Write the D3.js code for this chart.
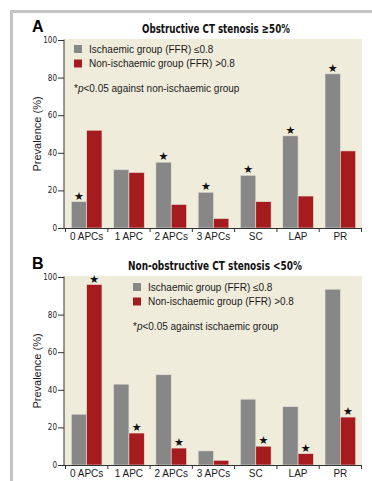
<!DOCTYPE html>
<html>
<head>
<meta charset="utf-8">
<script src="https://cdn.jsdelivr.net/npm/d3@7"></script>
<style>
body{margin:0;background:#fff;}
svg{display:block;}
.tickNum{font-family:"Liberation Sans Narrow","DejaVu Sans Condensed",sans-serif;font-size:8px;fill:#222;}
.lbl{font-family:"Liberation Sans",Arial,sans-serif;font-size:10px;fill:#1a1a1a;}
.ttl{font-family:"Liberation Sans Narrow","DejaVu Sans Condensed",sans-serif;font-size:13px;font-weight:bold;fill:#111;}
</style>
</head>
<body>
<svg id="chart" width="372" height="481"></svg>
<script>

var categories = ["0 APCs", "1 APC", "2 APCs", "3 APCs", "SC", "LAP", "PR"];
var yTicks = [0, 20, 40, 60, 80, 100];

// panel A - obstructive
var obsIschaemic = [14, 31, 35, 19, 28, 49, 82];
var obsNonIschaemic = [52, 29.5, 12.5, 5, 14, 17, 41];
var obsStarIsch = [1, 0, 1, 1, 1, 1, 1];
var obsStarNon = [0, 0, 0, 0, 0, 0, 0];

// panel B - non-obstructive
var nonIschaemic = [27, 43, 48, 7.5, 35, 31, 93.5];
var nonNonIschaemic = [96, 17, 9, 2.5, 10, 6, 25.5];
var nonStarIsch = [0, 0, 0, 0, 0, 0, 0];
var nonStarNon = [1, 1, 1, 0, 1, 1, 1];

var grey = "#878787", red = "#a61b1d", beige = "#f0ecdb";

var svg = d3.select("#chart");

// outer frame
svg.append("rect")
  .attr("x", 11.5).attr("y", 11.5)
  .attr("width", 400).attr("height", 500)
  .attr("fill", "none").attr("stroke", "#c4c4c4").attr("stroke-width", 3);

function panel(opt){
  var top = opt.top, bottom = opt.top + 188;
  var left = 64, right = 362;

  var x = d3.scaleBand().domain(categories).range([65.5, 361.5]).paddingInner(0);
  var x1 = d3.scaleBand().domain(["isch", "non"]).range([0, x.bandwidth()]).paddingOuter(0.38).paddingInner(0);
  var y = d3.scaleLinear().domain([0, 100]).range([bottom, top]);

  var g = svg.append("g");

  g.append("rect")
    .attr("x", left).attr("y", y(100) - 1)
    .attr("width", right - left).attr("height", bottom - y(100) + 1)
    .attr("fill", beige);

  // letter + title
  g.append("text").text(opt.letter)
    .attr("x", 32).attr("y", opt.top - 8)
    .style("font-family", "Liberation Sans, Arial, sans-serif")
    .style("font-weight", "bold").style("font-size", "16px");

  g.append("text").attr("class", "ttl").text(opt.title)
    .attr("x", opt.titleX).attr("y", opt.top - 7)
    .attr("textLength", opt.titleW).attr("lengthAdjust", "spacingAndGlyphs");

  var rows = categories.map(function(c, i){
    return {cat: c, vals: [
      {k: "isch", v: opt.isch[i], star: opt.starIsch[i], col: grey},
      {k: "non", v: opt.non[i], star: opt.starNon[i], col: red}
    ]};
  });

  var grp = g.selectAll(".grp").data(rows).enter().append("g")
    .attr("transform", function(d){ return "translate(" + x(d.cat) + ",0)"; });

  grp.selectAll("rect").data(function(d){ return d.vals; }).enter().append("rect")
    .attr("x", function(d){ return x1(d.k); })
    .attr("y", function(d){ return y(d.v); })
    .attr("width", x1.bandwidth())
    .attr("height", function(d){ return y(0) - y(d.v); })
    .attr("fill", function(d){ return d.col; })
    .attr("stroke", "#e6dfd6").attr("stroke-width", 0.6);

  grp.selectAll(".star").data(function(d){ return d.vals.filter(function(v){ return v.star; }); })
    .enter().append("text")
    .text("★")
    .attr("x", function(d){ return x1(d.k) + x1.bandwidth() / 2; })
    .attr("y", function(d){ return y(d.v) - 2; })
    .attr("text-anchor", "middle")
    .style("font-family", "DejaVu Sans, sans-serif")
    .style("font-size", "11px").style("fill", "#111");

  // y axis
  var ya = g.append("g").attr("transform", "translate(" + left + ",0)")
    .call(d3.axisLeft(y).tickValues(yTicks).tickSize(6).tickPadding(1));
  ya.select(".domain").attr("stroke", "#333").attr("d", "M0," + (y(100) - 0.5) + "V" + bottom);
  ya.selectAll(".tick line").attr("stroke", "#333");
  ya.selectAll(".tick text").attr("class", "tickNum").attr("fill", null).attr("font-size", null).attr("font-family", null);

  g.append("text").attr("class", "lbl")
    .text("Prevalence (%)")
    .attr("transform", "translate(41," + (top + bottom) / 2 + ") rotate(-90)")
    .attr("text-anchor", "middle")
    .style("font-size", "11px");

  // x axis
  g.append("line")
    .attr("x1", left).attr("x2", right).attr("y1", bottom + 0.5).attr("y2", bottom + 0.5)
    .attr("stroke", "#333");
  var bounds = categories.map(function(c){ return x(c); }).concat([x.range()[1]]);
  g.selectAll(".xt").data(bounds).enter().append("line")
    .attr("x1", function(d){ return d; }).attr("x2", function(d){ return d; })
    .attr("y1", bottom).attr("y2", bottom + 4)
    .attr("stroke", "#333");
  g.selectAll(".xl").data(categories).enter().append("text").attr("class", "lbl")
    .text(function(d){ return d; })
    .attr("x", function(d){ return x(d) + x.bandwidth() / 2; })
    .attr("y", bottom + 12)
    .attr("text-anchor", "middle");

  // legend
  var lg = g.append("g").attr("transform", "translate(" + opt.legX + "," + opt.legY + ")");
  var items = [{t: "Ischaemic group (FFR) \u22640.8", c: grey}, {t: "Non-ischaemic group (FFR) >0.8", c: red}];
  items.forEach(function(it, i){
    lg.append("rect").attr("x", 0).attr("y", i * 14.5).attr("width", 8).attr("height", 8).attr("fill", it.c);
    lg.append("text").attr("class", "lbl").text(it.t).attr("x", 15).attr("y", i * 14.5 + 7.5);
  });
  var note = lg.append("text").attr("class", "lbl").attr("x", 0).attr("y", 46.5);
  note.append("tspan").text("*");
  note.append("tspan").text("p").style("font-style", "italic");
  note.append("tspan").text("<0.05 against " + opt.noteGroup);
}

panel({
  letter: "A", title: "Obstructive CT stenosis \u226550%", top: 40, titleX: 142, titleW: 148,
  isch: obsIschaemic, non: obsNonIschaemic, starIsch: obsStarIsch, starNon: obsStarNon,
  legX: 74, legY: 45, noteGroup: "non-ischaemic group"
});

panel({
  letter: "B", title: "Non-obstructive CT stenosis <50%", top: 277, titleX: 128, titleW: 174,
  isch: nonIschaemic, non: nonNonIschaemic, starIsch: nonStarIsch, starNon: nonStarNon,
  legX: 133, legY: 283, noteGroup: "ischaemic group"
});

</script>
</body>
</html>
